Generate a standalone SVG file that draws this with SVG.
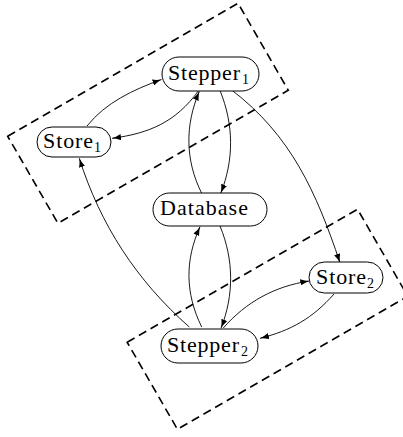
<svg xmlns="http://www.w3.org/2000/svg" width="403" height="437" viewBox="0 0 403 437">
<style>
.node rect{fill:#fff;stroke:#000;stroke-width:1}
.node text{font-family:"Liberation Serif","Times New Roman",serif;font-size:22px;fill:#000}
.sub{font-size:14px}
.grp{fill:none;stroke:#000;stroke-width:1.6;stroke-dasharray:8.5 5}
.edges path{fill:none;stroke:#000;stroke-width:0.9;marker-end:url(#arr)}
</style>
<defs>
<marker id="arr" viewBox="0 0 10 7" refX="10" refY="3.5" markerWidth="9" markerHeight="6.3" markerUnits="userSpaceOnUse" orient="auto">
<path d="M0,0 Q5,2.6 10,3.5 Q5,4.4 0,7 Z" fill="#000"/>
</marker>
</defs>
<rect width="403" height="437" fill="#fff"/>
<g id="groups">
<rect class="grp" x="-133" y="-50.25" width="266" height="100.5" transform="translate(148,113.3) rotate(-30)"/>
<rect class="grp" x="-133" y="-50.25" width="266" height="100.5" transform="translate(267.5,319.3) rotate(-30)"/>
</g>
<g class="edges" id="connectors">
<path d="M87,126 C105.6,102.6 133.3,89.7 161.5,79.5"/>
<path d="M198.3,91 C175.9,121.8 149.6,133.4 112,138.3"/>
<path d="M201.7,193.3 C185,160 185,125 199.3,91.5"/>
<path d="M220,90.5 C234,125 234,160 220.7,193.3"/>
<path d="M231.7,90 C291,135.6 316,191.4 340,262.7"/>
<path d="M189.3,327 C136.8,280.8 100.3,224.8 79.3,158.3"/>
<path d="M201.7,327 C185,293 185,260 200,226.7"/>
<path d="M220,226 C234,260 234,295 221,328.3"/>
<path d="M223.3,328 C246.4,301.7 274.7,286.3 309.3,281"/>
<path d="M334,294 C312.9,318 291,330.6 260,338.3"/>
</g>
<g class="node" id="stepper1">
<rect x="162" y="57" width="97" height="34" rx="17"/>
<text x="168" y="80"><tspan textLength="72">Stepper</tspan><tspan class="sub" x="242" y="84">1</tspan></text>
</g>
<g class="node" id="store1">
<rect x="37" y="127" width="74" height="30" rx="15"/>
<text x="43" y="148"><tspan textLength="50">Store</tspan><tspan class="sub" x="94" y="152">1</tspan></text>
</g>
<g class="node" id="database">
<rect x="153" y="193" width="114" height="33" rx="16.5"/>
<text x="160" y="215" textLength="88">Database</text>
</g>
<g class="node" id="store2">
<rect x="309" y="262" width="74" height="31" rx="15.5"/>
<text x="316" y="284"><tspan textLength="50">Store</tspan><tspan class="sub" x="367" y="288">2</tspan></text>
</g>
<g class="node" id="stepper2">
<rect x="161" y="329" width="97" height="34" rx="17"/>
<text x="167" y="352"><tspan textLength="72">Stepper</tspan><tspan class="sub" x="241" y="356">2</tspan></text>
</g>
</svg>
